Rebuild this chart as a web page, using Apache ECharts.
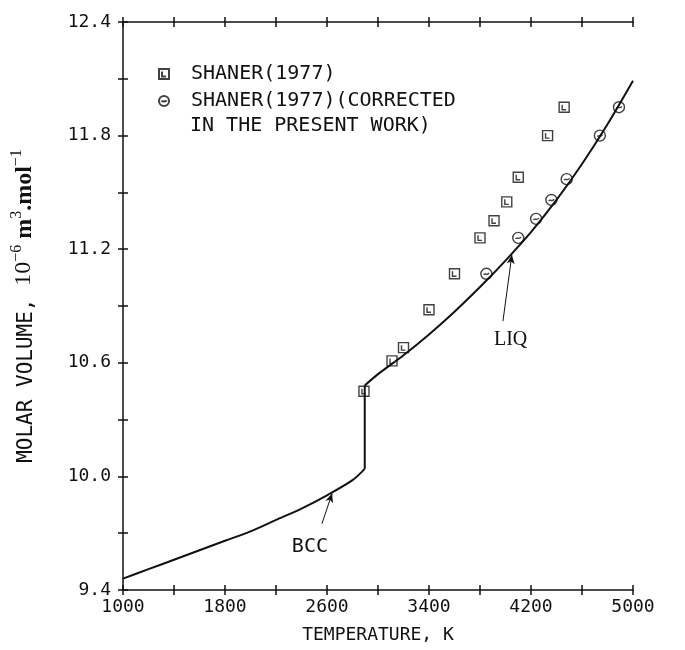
<!DOCTYPE html>
<html>
<head>
<meta charset="utf-8">
<script src="https://cdn.jsdelivr.net/npm/echarts@6/dist/echarts.min.js"></script>
<style>
html, body { margin: 0; padding: 0; background: #ffffff; }
#chart { width: 685px; height: 650px; }
</style>
</head>
<body>
<div id="chart"></div>
<script>
// Molar volume of the solid (BCC) and liquid phases, 10^-6 m^3/mol
const bccTemp = [1000, 1200, 1400, 1600, 1800, 2000, 2200, 2400, 2600, 2800, 2896];
const bccVol  = [9.46, 9.51, 9.56, 9.61, 9.66, 9.71, 9.77, 9.83, 9.90, 9.98, 10.04];

const liqTemp = [2896, 3000, 3200, 3400, 3600, 3800, 4000, 4200, 4400, 4600, 4800, 5000];
const liqVol  = [10.48, 10.54, 10.64, 10.75, 10.87, 11.00, 11.14, 11.29, 11.46, 11.65, 11.86, 12.09];

// Shaner (1977), original and corrected points
const shanerTemp = [2890, 3110, 3200, 3400, 3600, 3800, 3910, 4010, 4100, 4330, 4460];
const shanerVol  = [10.45, 10.61, 10.68, 10.88, 11.07, 11.26, 11.35, 11.45, 11.58, 11.80, 11.95];

const correctedTemp = [3850, 4100, 4240, 4360, 4480, 4740, 4890];
const correctedVol  = [11.07, 11.26, 11.36, 11.46, 11.57, 11.80, 11.95];

// Axis ticks and labels
const xTicks  = [1000, 1400, 1800, 2200, 2600, 3000, 3400, 3800, 4200, 4600, 5000];
const xLabels = [1000, 1800, 2600, 3400, 4200, 5000];
const yTicks  = [9.4, 9.7, 10.0, 10.3, 10.6, 10.9, 11.2, 11.5, 11.8, 12.1, 12.4];
const yLabels = [9.4, 10.0, 10.6, 11.2, 11.8, 12.4];

// Phase annotations: label position, arrow tail, arrow head
const liqNote = { text: 'LIQ', at: [4040, 10.72], from: [3980, 10.82], to: [4050, 11.17] };
const bccNote = { text: 'BCC', at: [2466, 9.63], from: [2560, 9.75], to: [2640, 9.91] };

const INK = '#111111';
const MONO = '"DejaVu Sans Mono", "Liberation Mono", monospace';
const SERIF = '"Liberation Serif", "DejaVu Serif", serif';

const pairs = (xs, ys) => xs.map((x, i) => [x, ys[i]]);

const squareMark = 'path://M0,0H10V10H0Z M3,2.5V7.5H7';
const circleMark = 'path://M5,0A5,5,0,1,1,5,10A5,5,0,1,1,5,0Z M2.5,5.8C4,4,6,7,7.5,4.2';

const SHANER = 'SHANER(1977)';
const CORRECTED = 'SHANER(1977)(CORRECTED\nIN THE PRESENT WORK)';

function xAxisOf(position, inside, withLabels) {
  return {
    type: 'value', position: position, min: 1000, max: 5000,
    axisLine: { show: !inside, onZero: false, lineStyle: { color: INK, width: 1.5 } },
    axisTick: { show: true, inside: inside, length: 5, customValues: xTicks,
                lineStyle: { color: INK, width: 1.5 } },
    axisLabel: withLabels ? {
      show: true, customValues: xLabels, margin: 8, color: INK,
      fontFamily: MONO, fontSize: 18, formatter: v => String(v)
    } : { show: false },
    splitLine: { show: false },
    name: withLabels ? 'TEMPERATURE, K' : '',
    nameLocation: 'middle', nameGap: 36,
    nameTextStyle: { color: INK, fontFamily: MONO, fontSize: 18 }
  };
}

function yAxisOf(inside, withLabels) {
  return {
    type: 'value', position: 'left', min: 9.4, max: 12.4,
    axisLine: { show: !inside, onZero: false, lineStyle: { color: INK, width: 1.5 } },
    axisTick: { show: true, inside: inside, length: 5, customValues: yTicks,
                lineStyle: { color: INK, width: 1.5 } },
    axisLabel: withLabels ? {
      show: true, customValues: yLabels, margin: 12, color: INK,
      fontFamily: MONO, fontSize: 18, verticalAlign: 'middle',
      formatter: v => v.toFixed(1)
    } : { show: false },
    splitLine: { show: false },
    name: withLabels
      ? '{a|MOLAR VOLUME, }{b|10}{s|−6}{c| m}{s|3}{c|.mol}{s|−1}'
      : '',
    nameLocation: 'middle', nameRotate: 90, nameGap: 86,
    nameTextStyle: {
      color: INK,
      rich: {
        a: { fontFamily: MONO, fontSize: 21, color: INK, lineHeight: 30, verticalAlign: 'bottom' },
        b: { fontFamily: SERIF, fontSize: 24, color: INK, lineHeight: 30, verticalAlign: 'bottom', padding: [0, 0, 1, 0] },
        c: { fontFamily: SERIF, fontSize: 24, fontWeight: 'bold', color: INK, lineHeight: 30, verticalAlign: 'bottom' },
        s: { fontFamily: SERIF, fontSize: 16, color: INK, lineHeight: 30, verticalAlign: 'bottom', padding: [0, 0, 12, 0] }
      }
    }
  };
}

function annotation(note) {
  return {
    markLine: {
      silent: true, symbol: ['none', 'arrow'], symbolSize: [6, 9],
      lineStyle: { color: INK, width: 1, type: 'solid' },
      label: { show: false },
      data: [[{ coord: note.from }, { coord: note.to }]]
    },
    markPoint: {
      silent: true, symbol: 'circle', symbolSize: 1,
      itemStyle: { color: 'rgba(0,0,0,0)' },
      label: {
        show: true, position: 'inside', formatter: note.text, color: INK,
        fontFamily: note.text === 'LIQ' ? SERIF : MONO, fontSize: 20
      },
      data: [{ coord: note.at }]
    }
  };
}

const lineStyle = { color: INK, width: 2 };

const chart = echarts.init(document.getElementById('chart'), null, { renderer: 'canvas' });
chart.setOption({
  animation: false,
  backgroundColor: '#ffffff',
  grid: { left: 123, right: 52, top: 22, bottom: 60 },
  legend: {
    left: 158, top: 63, orient: 'vertical', padding: 0, itemGap: 5,
    itemWidth: 10, itemHeight: 10, selectedMode: false,
    data: [SHANER, CORRECTED],
    formatter: name => name.split('\n')[0],
    textStyle: { color: INK, fontFamily: MONO, fontSize: 20, lineHeight: 22, padding: [0, 0, 0, 17] }
  },
  graphic: [{
    type: 'text', left: 190, top: 116,
    style: { text: CORRECTED.split('\n')[1], fill: INK, font: '20px ' + MONO }
  }],
  xAxis: [
    xAxisOf('bottom', false, true),
    xAxisOf('bottom', true, false),
    xAxisOf('top', false, false),
    xAxisOf('top', true, false)
  ],
  yAxis: [
    yAxisOf(false, true),
    yAxisOf(true, false)
  ],
  series: [
    Object.assign({
      name: 'BCC', type: 'line', data: pairs(bccTemp, bccVol), smooth: 0.3,
      showSymbol: false, lineStyle: lineStyle, silent: true
    }, annotation(bccNote)),
    {
      name: 'melting', type: 'line', showSymbol: false, lineStyle: lineStyle, silent: true,
      data: [[bccTemp[bccTemp.length - 1], bccVol[bccVol.length - 1]], [liqTemp[0], liqVol[0]]]
    },
    Object.assign({
      name: 'LIQ', type: 'line', data: pairs(liqTemp, liqVol), smooth: 0.3,
      showSymbol: false, lineStyle: lineStyle, silent: true
    }, annotation(liqNote)),
    {
      name: SHANER, type: 'scatter', data: pairs(shanerTemp, shanerVol),
      symbol: squareMark, symbolSize: 10,
      itemStyle: { color: 'rgba(0,0,0,0)', borderColor: INK, borderWidth: 1.4 }
    },
    {
      name: CORRECTED, type: 'scatter', data: pairs(correctedTemp, correctedVol),
      symbol: circleMark, symbolSize: 11,
      itemStyle: { color: 'rgba(0,0,0,0)', borderColor: INK, borderWidth: 1.4 }
    }
  ]
});
</script>
</body>
</html>
